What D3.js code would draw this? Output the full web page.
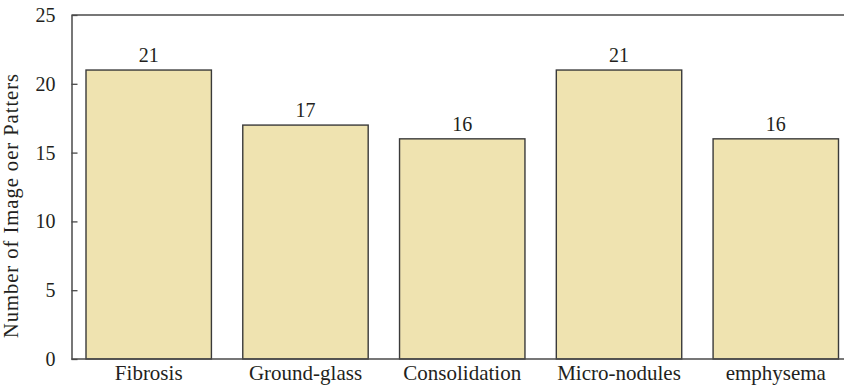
<!DOCTYPE html>
<html>
<head>
<meta charset="utf-8">
<script src="https://cdn.jsdelivr.net/npm/d3@7/dist/d3.min.js"></script>
<style>
  html, body { margin: 0; padding: 0; background: #fff; }
  svg { display: block; }
</style>
</head>
<body>
<svg id="chart" width="844" height="387"></svg>
<script>
// Counts of images per lung pattern
const categories = ["Fibrosis", "Ground-glass", "Consolidation", "Micro-nodules", "emphysema"];
const counts = [21, 17, 16, 21, 16];
const yTicks = [0, 5, 10, 15, 20, 25];
const yTitle = "Number of Image oer Patters";

const W = 844, H = 387;
const mLeft = 71.5, mTop = 15, mBottom = 359, plotRight = 853;
const FONT = '"Liberation Serif"';
const INK = "#231f20";

const svg = d3.select("#chart");

const x = d3.scaleBand()
  .domain(categories)
  .range([mLeft, plotRight])
  .paddingInner(0.2)
  .paddingOuter(0.0925);

const y = d3.scaleLinear().domain([0, 25]).range([mBottom, mTop]);

// bars
svg.append("g").selectAll("rect")
  .data(categories)
  .join("rect")
  .attr("x", d => x(d))
  .attr("y", (d, i) => y(counts[i]))
  .attr("width", x.bandwidth())
  .attr("height", (d, i) => y(0) - y(counts[i]))
  .attr("fill", "#efe3b0")
  .attr("stroke", "#3a3a3a")
  .attr("stroke-width", 1.4);

// value labels above each bar
svg.append("g").selectAll("text")
  .data(categories)
  .join("text")
  .attr("x", d => x(d) + x.bandwidth() / 2)
  .attr("y", (d, i) => y(counts[i]) - 8)
  .attr("text-anchor", "middle")
  .attr("font-size", 20)
  .style("font-family", FONT)
  .style("fill", INK)
  .text((d, i) => counts[i]);

// left axis with inward ticks
const yAxis = svg.append("g")
  .attr("transform", `translate(${mLeft},0)`)
  .call(d3.axisLeft(y).tickValues(yTicks).tickSizeInner(-6).tickSizeOuter(0).tickPadding(16));
yAxis.attr("font-family", null).attr("font-size", null);
yAxis.select(".domain").attr("stroke", "#4a4a4a").attr("stroke-width", 1.5);
yAxis.selectAll(".tick line").attr("stroke", "#4a4a4a").attr("stroke-width", 1.3);
yAxis.selectAll(".tick text")
  .attr("font-size", 20)
  .style("font-family", FONT)
  .style("fill", INK);

// bottom axis, labels only
const xAxis = svg.append("g")
  .attr("transform", `translate(0,${mBottom})`)
  .call(d3.axisBottom(x).tickSize(0).tickPadding(6));
xAxis.attr("font-family", null).attr("font-size", null);
xAxis.select(".domain").remove();
xAxis.selectAll(".tick text")
  .attr("font-size", 21)
  .style("font-family", FONT)
  .style("fill", INK);

// frame lines: bottom and top
svg.append("line").attr("x1", mLeft).attr("x2", W).attr("y1", mBottom).attr("y2", mBottom)
  .attr("stroke", "#4a4a4a").attr("stroke-width", 1.5);
svg.append("line").attr("x1", mLeft).attr("x2", W).attr("y1", mTop).attr("y2", mTop)
  .attr("stroke", "#4a4a4a").attr("stroke-width", 1.5);

// y-axis title, letter-spaced out to a fixed length along the axis
const title = svg.append("text")
  .attr("transform", "translate(18,205.5) rotate(-90)")
  .attr("text-anchor", "middle")
  .attr("font-size", 20.5)
  .style("font-family", FONT)
  .style("fill", INK)
  .text(yTitle);

const titleLength = 265;
const natural = title.node().getComputedTextLength();
title.style("letter-spacing", `${Math.max(0, (titleLength - natural) / yTitle.length)}px`);
</script>
</body>
</html>
